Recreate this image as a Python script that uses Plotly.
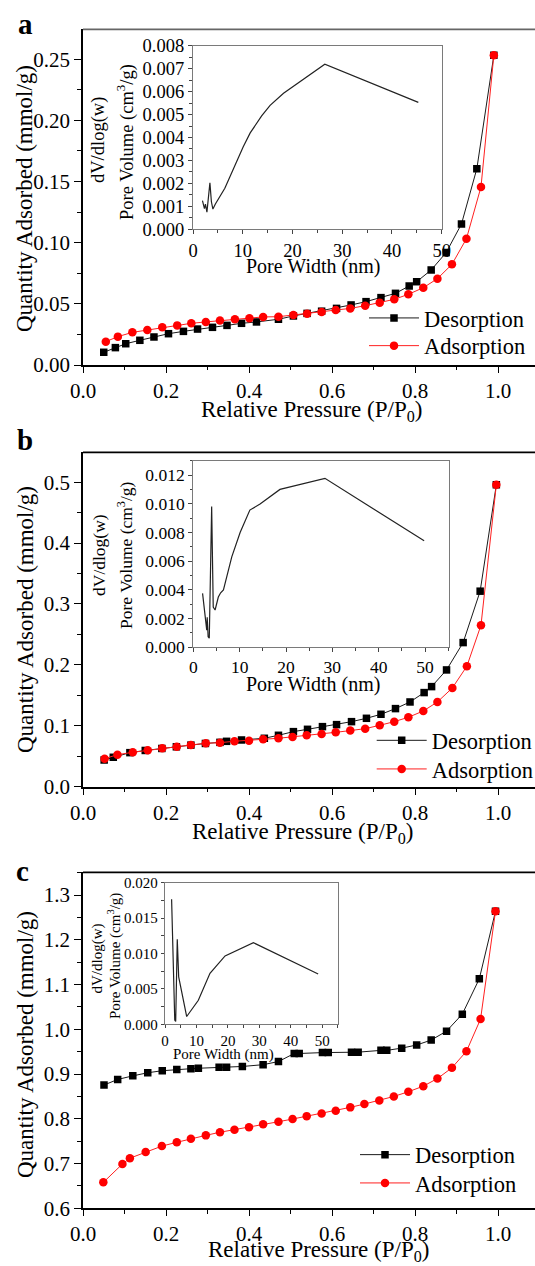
import plotly.graph_objects as go

# ---------------- data ----------------
a_des_p = [0.050, 0.078, 0.103, 0.137, 0.171, 0.206, 0.242, 0.276, 0.312, 0.347, 0.382, 0.418, 0.471, 0.507,
           0.540, 0.575, 0.611, 0.646, 0.682, 0.718, 0.753, 0.786, 0.804, 0.839, 0.875, 0.912, 0.949, 0.990]
a_des_q = [0.0104, 0.0142, 0.0174, 0.0202, 0.0229, 0.0256, 0.0275, 0.0294, 0.0308, 0.0324, 0.0341, 0.0352, 0.0374,
           0.0401, 0.0422, 0.0440, 0.0463, 0.0491, 0.0518, 0.0551, 0.0586, 0.0646, 0.0681, 0.0777, 0.0919, 0.1153,
           0.1605, 0.2533]
a_ads_p = [0.055, 0.084, 0.119, 0.155, 0.191, 0.227, 0.261, 0.296, 0.330, 0.366, 0.401, 0.434, 0.471, 0.507,
           0.540, 0.575, 0.609, 0.644, 0.680, 0.715, 0.750, 0.784, 0.820, 0.854, 0.889, 0.924, 0.959, 0.990]
a_ads_q = [0.0191, 0.0232, 0.0267, 0.0286, 0.0308, 0.0324, 0.0341, 0.0352, 0.0363, 0.0374, 0.0382, 0.0393, 0.0395,
           0.0409, 0.0420, 0.0433, 0.0450, 0.0463, 0.0485, 0.0510, 0.0537, 0.0578, 0.0632, 0.0706, 0.0823, 0.1033,
           0.1456, 0.2533]
a_pore_w = [1.9, 2.3, 2.5, 2.8, 3.4, 3.7, 4.0, 4.5, 6.4, 8.0, 10.1, 11.5, 13.8, 15.5, 18.2, 26.5, 45.3]
a_pore_v = [0.00125, 0.0009, 0.0011, 0.00075, 0.00203, 0.0012, 0.00088, 0.0011, 0.00179, 0.0026, 0.0036, 0.0042,
            0.00494, 0.0054, 0.00593, 0.00719, 0.00553]

b_des_p = [0.051, 0.073, 0.113, 0.150, 0.190, 0.225, 0.260, 0.295, 0.330, 0.346, 0.382, 0.437, 0.471, 0.507,
           0.541, 0.577, 0.611, 0.647, 0.683, 0.718, 0.753, 0.788, 0.822, 0.840, 0.876, 0.916, 0.957, 0.996]
b_des_q = [0.0439, 0.0483, 0.0559, 0.0595, 0.0628, 0.0655, 0.0683, 0.0710, 0.0728, 0.0745, 0.0767, 0.0795, 0.0844,
           0.0904, 0.0942, 0.0986, 0.1019, 0.1068, 0.1123, 0.1189, 0.1282, 0.1391, 0.1545, 0.1643, 0.1917, 0.2366,
           0.3210, 0.4956]
b_ads_p = [0.052, 0.083, 0.120, 0.156, 0.191, 0.226, 0.260, 0.296, 0.330, 0.365, 0.400, 0.434, 0.471, 0.505,
           0.539, 0.575, 0.609, 0.644, 0.680, 0.715, 0.750, 0.784, 0.820, 0.854, 0.890, 0.925, 0.959, 0.996]
b_ads_q = [0.0460, 0.0526, 0.0565, 0.0598, 0.0631, 0.0657, 0.0685, 0.0713, 0.0723, 0.0746, 0.0756, 0.0778, 0.0795,
           0.0817, 0.0844, 0.0866, 0.0893, 0.0921, 0.0953, 0.1008, 0.1068, 0.1140, 0.1243, 0.1391, 0.1621, 0.1978,
           0.2651, 0.4956]
b_pore_w = [2.0, 2.4, 2.9, 3.0, 3.2, 3.45, 3.96, 4.3, 4.7, 5.4, 5.9, 6.5, 8.3, 10.1, 12.2, 14.4, 18.7, 28.4, 49.8]
b_pore_v = [0.00376, 0.0026, 0.0012, 0.0021, 0.00074, 0.00063, 0.0098, 0.0028, 0.0026, 0.0035, 0.0038, 0.0040,
            0.0063, 0.0080, 0.00956, 0.00998, 0.0110, 0.01177, 0.00742]

c_des_p = [0.0506, 0.0836, 0.120, 0.156, 0.191, 0.226, 0.260, 0.278, 0.328, 0.346, 0.384, 0.434, 0.471, 0.509,
           0.521, 0.577, 0.591, 0.647, 0.663, 0.718, 0.732, 0.768, 0.804, 0.839, 0.876, 0.914, 0.955, 0.994]
c_des_q = [0.8755, 0.888, 0.896, 0.903, 0.9075, 0.9105, 0.912, 0.913, 0.915, 0.915, 0.917, 0.921, 0.928, 0.946,
           0.946, 0.948, 0.948, 0.949, 0.949, 0.953, 0.953, 0.958, 0.965, 0.976, 0.996, 1.034, 1.113, 1.264]
c_ads_p = [0.049, 0.095, 0.113, 0.151, 0.190, 0.226, 0.260, 0.296, 0.330, 0.365, 0.400, 0.434, 0.471, 0.505,
           0.539, 0.575, 0.609, 0.644, 0.678, 0.714, 0.749, 0.784, 0.820, 0.854, 0.889, 0.924, 0.958, 0.994]
c_ads_q = [0.658, 0.699, 0.712, 0.726, 0.739, 0.7475, 0.7555, 0.763, 0.770, 0.7756, 0.781, 0.788, 0.7935, 0.7995,
           0.806, 0.812, 0.818, 0.8256, 0.833, 0.841, 0.850, 0.8605, 0.873, 0.890, 0.914, 0.951, 1.023, 1.264]
c_pore_w = [2.1, 2.6, 3.1, 3.4, 3.9, 4.35, 6.9, 10.6, 14.3, 19.1, 28.1, 48.7]
c_pore_v = [0.01765, 0.0105, 0.0006, 0.0004, 0.012, 0.0067, 0.0011, 0.0034, 0.0072, 0.00965, 0.01153, 0.0071]

series_names = ["Desorption", "Adsorption"]
panel_labels = ["a", "b", "c"]

# ---------------- layout helpers ----------------
W, H = 535, 1266
FONT = "Liberation Serif, Times New Roman, DejaVu Serif, serif"


def fx(p):
    return p / W


def fy(p):
    return 1 - p / H


fig = go.Figure()

# main panel geometry in pixels: (left, right, top, bottom)
main_geo = [(83, 535, 29.3, 365), (83, 535, 452.3, 786.7), (83, 535, 872.3, 1208.3)]
main_yrange = [[0, 0.2745], [0, 0.549], [0.6, 1.351]]
main_ydtick = [0.05, 0.1, 0.1]
main_yfmt = [".2f", ".1f", ".1f"]
inset_geo = [(193, 441.7, 45.7, 229.3), (193.3, 448.7, 460.7, 647.3), (165, 338.3, 882.7, 1024.3)]
inset_xrange = [[0, 50], [0, 55.1], [0, 55.1]]
inset_yrange = [[0, 0.008], [0, 0.013], [0, 0.02]]
inset_ydtick = [0.001, 0.002, 0.005]
inset_font = [18.5, 17.5, 15]
inset_title_font = [20, 20, 15]
inset_ticklen = [4, 4, 3]
# legend rows: (line start x, row centre y) for desorption and adsorption
legend_rows = [[(369, 318.3), (369, 346)], [(376.7, 740.7), (376.7, 769.3)], [(360, 1155), (360, 1183.3)]]

data = [
    (a_des_p, a_des_q, a_ads_p, a_ads_q, a_pore_w, a_pore_v),
    (b_des_p, b_des_q, b_ads_p, b_ads_q, b_pore_w, b_pore_v),
    (c_des_p, c_des_q, c_ads_p, c_ads_q, c_pore_w, c_pore_v),
]

layout = {}
annotations = []
shapes = []

for i in range(3):
    mx = 2 * i + 1
    ix = 2 * i + 2
    sx = "" if mx == 1 else str(mx)
    des_p, des_q, ads_p, ads_q, pw, pv = data[i]
    leg_d = "legend" if i == 0 else "legend%d" % (2 * i + 1)
    leg_a = "legend%d" % (2 * i + 2)

    fig.add_trace(go.Scatter(
        x=des_p, y=des_q, name=series_names[0], mode="lines+markers",
        line=dict(color="#1a1a1a", width=1),
        marker=dict(symbol="square", size=7.5, color="black"),
        xaxis="x" + sx, yaxis="y" + sx, legend=leg_d))
    fig.add_trace(go.Scatter(
        x=ads_p, y=ads_q, name=series_names[1], mode="lines+markers",
        line=dict(color="#ff2020", width=1),
        marker=dict(symbol="circle", size=8.5, color="#ff0000"),
        xaxis="x" + sx, yaxis="y" + sx, legend=leg_a))
    fig.add_trace(go.Scatter(
        x=pw, y=pv, mode="lines", showlegend=False,
        line=dict(color="#222222", width=1.2),
        xaxis="x%d" % ix, yaxis="y%d" % ix))

    l, r, t, b = main_geo[i]
    xkey = "xaxis" if mx == 1 else "xaxis%d" % mx
    ykey = "yaxis" if mx == 1 else "yaxis%d" % mx
    layout[xkey] = dict(
        domain=[fx(l), fx(r)], range=[0, (r - l) / 415.0], anchor="y" + sx,
        showline=True, linecolor="black", linewidth=1.6, mirror=False,
        showgrid=False, zeroline=False, automargin=False,
        ticks="outside", ticklen=6, tickwidth=1.4, tickcolor="black",
        tick0=0, dtick=0.2, tickformat=".1f",
        minor=dict(dtick=0.1, ticks="outside", ticklen=3.5, tickwidth=1.2, tickcolor="black"),
        tickfont=dict(family=FONT, size=21, color="black"))
    layout[ykey] = dict(
        domain=[fy(b), fy(t)], range=main_yrange[i], anchor="x" + sx,
        showline=True, linecolor="black", linewidth=1.6, mirror=False,
        showgrid=False, zeroline=False, automargin=False,
        ticks="outside", ticklen=7, tickwidth=1.4, tickcolor="black",
        tick0=main_yrange[i][0], dtick=main_ydtick[i], tickformat=main_yfmt[i],
        minor=dict(dtick=main_ydtick[i] / 2, ticks="outside", ticklen=4, tickwidth=1.2, tickcolor="black"),
        tickfont=dict(family=FONT, size=21, color="black"))

    il, ir, it, ib = inset_geo[i]
    layout["xaxis%d" % ix] = dict(
        domain=[fx(il), fx(ir)], range=inset_xrange[i], anchor="y%d" % ix,
        showline=True, linecolor="#7a7a7a", linewidth=1.3, mirror=True,
        showgrid=False, zeroline=False, automargin=False,
        ticks="outside", ticklen=inset_ticklen[i], tickwidth=1.1, tickcolor="#444",
        tick0=0, dtick=10,
        minor=dict(dtick=5, ticks="outside", ticklen=2.5, tickwidth=1, tickcolor="#444"),
        tickfont=dict(family=FONT, size=inset_font[i], color="black"))
    layout["yaxis%d" % ix] = dict(
        domain=[fy(ib), fy(it)], range=inset_yrange[i], anchor="x%d" % ix,
        showline=True, linecolor="#7a7a7a", linewidth=1.3, mirror=True,
        showgrid=False, zeroline=False, automargin=False,
        ticks="outside", ticklen=inset_ticklen[i], tickwidth=1.1, tickcolor="#444",
        tick0=0, dtick=inset_ydtick[i], tickformat=".3f",
        minor=dict(dtick=inset_ydtick[i] / 2, ticks="outside", ticklen=2.5, tickwidth=1, tickcolor="#444"),
        tickfont=dict(family=FONT, size=inset_font[i], color="black"))

    for leg, (lx, ly) in zip([leg_d, leg_a], legend_rows[i]):
        layout[leg] = dict(
            x=fx(lx - 5), y=fy(ly), xanchor="left", yanchor="middle",
            bgcolor="rgba(0,0,0,0)", borderwidth=0, itemwidth=50,
            font=dict(family=FONT, size=22.5, color="black"))

    # top frame line (right side of frame is cut off by the image edge)
    shapes.append(dict(type="line", xref="paper", yref="paper",
                       x0=fx(l), x1=1.0, y0=fy(t), y1=fy(t),
                       line=dict(color="#666666" if i == 0 else "black", width=1.8)))

# titles and labels (pixel positions)
ytitle_y = [199, 620, 1045]
xtitle = [(311, 411), (302, 833), (318, 1251)]
letter_pos = [(25, 24), (25, 440), (22, 871)]
pw_title = [(313, 266), (313, 684), (223, 1054)]
dv_pos = [(99, 140, 125, 142), (99, 555, 125, 555), (96.5, 959, 115, 956)]

for i in range(3):
    annotations.append(dict(text="Quantity Adsorbed (mmol/g)", x=fx(25), y=fy(ytitle_y[i]),
                            xref="paper", yref="paper", showarrow=False, textangle=-90,
                            xanchor="center", yanchor="middle",
                            font=dict(family=FONT, size=23, color="black")))
    annotations.append(dict(text="Relative Pressure (P/P<sub>0</sub>)", x=fx(xtitle[i][0]), y=fy(xtitle[i][1]),
                            xref="paper", yref="paper", showarrow=False,
                            xanchor="center", yanchor="middle",
                            font=dict(family=FONT, size=23, color="black")))
    annotations.append(dict(text="<b>%s</b>" % panel_labels[i], x=fx(letter_pos[i][0]), y=fy(letter_pos[i][1]),
                            xref="paper", yref="paper", showarrow=False,
                            xanchor="center", yanchor="middle",
                            font=dict(family=FONT, size=29, color="black")))
    annotations.append(dict(text="Pore Width (nm)", x=fx(pw_title[i][0]), y=fy(pw_title[i][1]),
                            xref="paper", yref="paper", showarrow=False,
                            xanchor="center", yanchor="middle",
                            font=dict(family=FONT, size=inset_title_font[i], color="black")))
    d = dv_pos[i]
    annotations.append(dict(text="dV/dlog(w)", x=fx(d[0]), y=fy(d[1]),
                            xref="paper", yref="paper", showarrow=False, textangle=-90,
                            xanchor="center", yanchor="middle",
                            font=dict(family=FONT, size=inset_font[i], color="black")))
    annotations.append(dict(text="Pore Volume (cm<sup>3</sup>/g)", x=fx(d[2]), y=fy(d[3]),
                            xref="paper", yref="paper", showarrow=False, textangle=-90,
                            xanchor="center", yanchor="middle",
                            font=dict(family=FONT, size=inset_font[i], color="black")))

fig.update_layout(
    width=W, height=H,
    margin=dict(l=0, r=0, t=0, b=0, pad=0, autoexpand=False),
    paper_bgcolor="white", plot_bgcolor="rgba(0,0,0,0)",
    annotations=annotations, shapes=shapes,
    **layout)

fig.write_html("out.html", config={"displayModeBar": False},
               post_script="document.documentElement.style.margin='0';"
                           "document.body.style.margin='0';document.body.style.padding='0';"
                           "document.body.style.overflow='hidden';")
